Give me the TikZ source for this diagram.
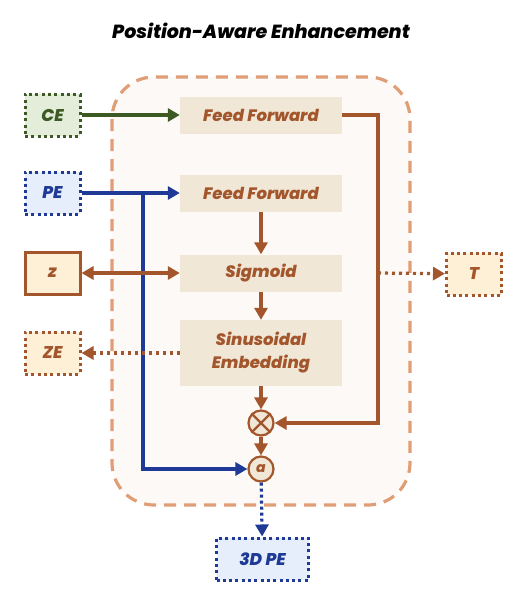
\documentclass[tikz,border=0pt]{standalone}
\usepackage{fontspec}
\setmainfont{Poppins}[BoldFont={Poppins ExtraBold},BoldItalicFont={Poppins ExtraBold Italic}]
\usetikzlibrary{arrows.meta,positioning}
\definecolor{pabrown}{RGB}{163,86,44}
\definecolor{paboxfill}{RGB}{241,231,215}
\definecolor{padash}{RGB}{224,158,118}
\definecolor{paback}{RGB}{253,249,246}
\definecolor{pacream}{RGB}{253,240,214}
\definecolor{pagreen}{RGB}{61,90,36}
\definecolor{pagreenfill}{RGB}{227,237,218}
\definecolor{pablue}{RGB}{30,58,150}
\definecolor{pabluefill}{RGB}{230,238,251}
\tikzset{
  block/.style={fill=paboxfill,text=pabrown,minimum width=162pt,minimum height=37pt,inner sep=0pt,align=center,font=\bfseries\itshape\fontsize{16.5}{23}\selectfont},
  iobox/.style={line width=3pt,minimum width=55pt,minimum height=42pt,inner sep=0pt,font=\bfseries\itshape\fontsize{17}{18}\selectfont},
  dotbox/.style={iobox,dash pattern=on 3pt off 3.3pt},
  opcircle/.style={circle,draw=pabrown,fill=paboxfill,line width=2.2pt,minimum size=25pt,inner sep=0pt},
  flow/.style={line width=3.2pt,-{Triangle[length=12pt,width=13pt]}},
}
\begin{document}
\begin{tikzpicture}[x=1pt,y=-1pt]
  \useasboundingbox (0,0) rectangle (528,606);
  % title
  \node[font=\bfseries\itshape\fontsize{19}{22}\selectfont] (title) at (261,31) {Position-Aware Enhancement};
  % container
  \draw[line width=3.2pt,draw=padash,fill=paback,dash pattern=on 12pt off 8pt,rounded corners=42pt] (112,77) rectangle (410,505);
  % inner blocks
  \node[block] (ff1) at (261,115) {Feed Forward};
  \node[block] (ff2) at (261,193) {Feed Forward};
  \node[block] (sig) at (261,273) {Sigmoid};
  \node[block,minimum height=66pt] (sinus) at (261,353) {Sinusoidal\\Embedding};
  \node[opcircle] (mul) at (261,423) {};
  \draw[pabrown,line width=2.2pt] (mul.north east) -- (mul.south west) (mul.north west) -- (mul.south east);
  \node[opcircle,text=pabrown,font=\bfseries\itshape\fontsize{14}{14}\selectfont] (acirc) at (261,469) {a};
  % outer boxes
  \node[dotbox,draw=pagreen,fill=pagreenfill,text=pagreen] (ce) at (52.5,115) {CE};
  \node[dotbox,draw=pablue,fill=pabluefill,text=pablue] (pe) at (52.5,193) {PE};
  \node[iobox,draw=pabrown,fill=pacream,text=pabrown] (z) at (52.5,273) {z};
  \node[dotbox,draw=pabrown,fill=pacream,text=pabrown] (ze) at (52.5,353) {ZE};
  \node[dotbox,draw=pabrown,fill=pacream,text=pabrown] (t) at (474,274) {T};
  \node[dotbox,draw=pablue,fill=pabluefill,text=pablue,minimum width=92pt] (pe3d) at (262.5,559) {3D PE};
  \coordinate (pesplit) at (143,193);
  \coordinate (rturn) at (378,423);
  % connectors
  \draw[flow,pagreen] (ce) -- (ff1);
  \draw[flow,pablue] (pe) -- (ff2);
  \draw[flow,pablue] (pesplit) |- (acirc.west);
  \draw[flow,pabrown] (ff2) -- (sig);
  \draw[flow,pabrown] (sig) -- (sinus);
  \draw[flow,pabrown] (sinus) -- (mul);
  \draw[flow,pabrown] (mul) -- (acirc);
  \draw[flow,pabrown] (ff1.east) -| (rturn) -- (mul.east);
  \draw[flow,pabrown,{Triangle[length=12pt,width=13pt]}-{Triangle[length=12pt,width=13pt]}] (z) -- (sig);
  \draw[flow,pabrown,dash pattern=on 3pt off 4pt] (sig.east -| rturn) -- (t);
  \draw[flow,pabrown,dash pattern=on 3pt off 4pt] (sinus) -- (ze);
  \draw[flow,pablue,dash pattern=on 3pt off 3pt] (acirc) -- (pe3d);
\end{tikzpicture}
\end{document}
